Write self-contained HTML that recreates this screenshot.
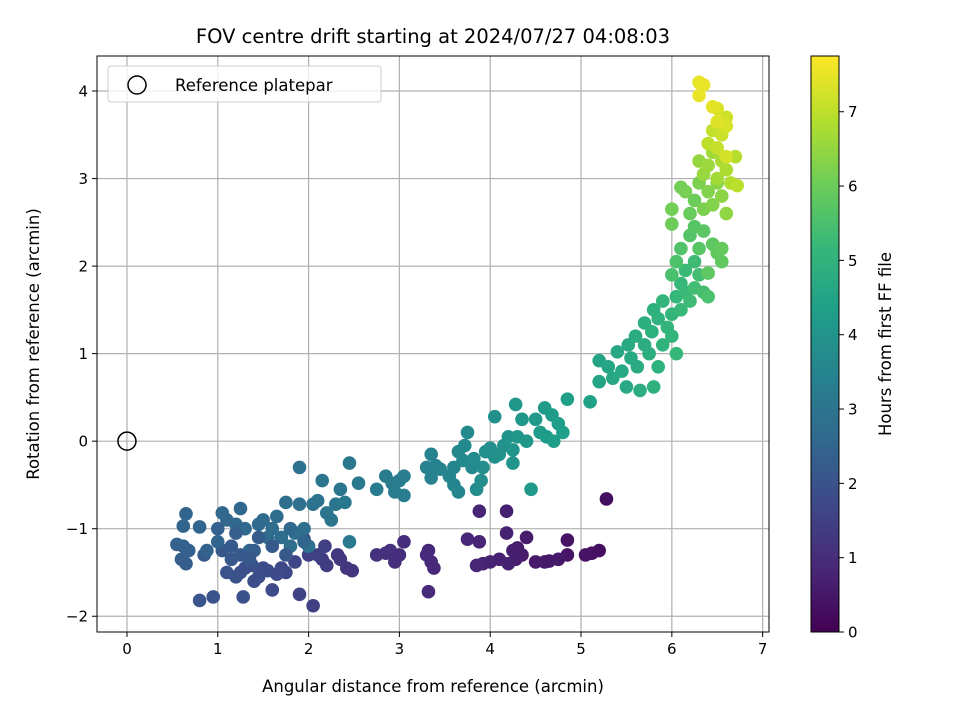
<!DOCTYPE html>
<html><head><meta charset="utf-8"><style>
body{margin:0;background:#fff}
svg text{font-family:"DejaVu Sans","Liberation Sans",sans-serif;fill:#000}
</style></head><body>
<svg id="chart" width="960" height="720" xmlns="http://www.w3.org/2000/svg">
<text x="433" y="43" font-size="19.5" text-anchor="middle">FOV centre drift starting at 2024/07/27 04:08:03</text>
<g id="grid"></g>
<g id="pts"></g>
<circle id="refm" r="9" fill="none" stroke="#000" stroke-width="1.5"/>
<rect x="97" y="56" width="672" height="576" fill="none" stroke="#000" stroke-width="1"/>
<g id="ticks"></g>
<text x="433" y="692" font-size="16.5" text-anchor="middle">Angular distance from reference (arcmin)</text>
<text transform="translate(39,344) rotate(-90)" font-size="16.5" text-anchor="middle">Rotation from reference (arcmin)</text>
<g>
<rect x="108" y="66" width="273" height="36" rx="3" fill="#fff" fill-opacity="0.8" stroke="#ccc"/>
<circle cx="137" cy="85" r="9" fill="none" stroke="#000" stroke-width="1.5"/>
<text x="175" y="91" font-size="16.5">Reference platepar</text>
</g>
<defs><linearGradient id="vir" x1="0" y1="1" x2="0" y2="0" id2="g"></linearGradient></defs>
<rect x="811" y="56" width="28" height="576" fill="url(#vir)" stroke="#000" stroke-width="1"/>
<g id="cbt"></g>
<text transform="translate(891,344) rotate(-90)" font-size="16.5" text-anchor="middle">Hours from first FF file</text>
</svg>
<script>
const xTicks=[0,1,2,3,4,5,6,7];
const yTicks=[-2,-1,0,1,2,3,4];
const cTicks=[0,1,2,3,4,5,6,7];
const xs=[5.28,5.2,5.12,5.05,4.85,4.85,4.75,4.65,4.6,4.5,4.4,4.35,4.3,4.28,4.25,4.2,4.18,4.18,4.1,4.0,3.92,3.88,3.88,3.85,3.75,3.38,3.35,3.32,3.3,3.32,3.05,3.0,2.95,2.9,2.85,2.75,2.48,2.42,2.35,2.32,
2.2,2.15,2.1,2.05,2.18,2.0,1.95,1.9,1.85,1.75,1.7,1.65,1.6,1.55,1.5,1.45,1.4,1.38,1.3,1.25,1.2,1.28,1.1,0.95,0.8,1.15,1.05,0.85,0.65,0.6,0.55,0.62,0.68,0.62,0.65,0.8,0.88,1.0,1.05,1.1,1.2,1.25,1.3,1.35,1.45,1.5,1.55,1.6,1.65,1.7,1.75,1.8,1.85,1.9,1.95,1.9,2.0,2.05,2.1,2.15,2.2,2.25,2.3,2.35,2.4,2.45,2.45,2.55,2.75,2.85,2.92,2.95,3.0,3.05,3.05,1.4,1.2,1.0,1.45,1.15,1.25,1.35,1.6,1.75,1.8,1.95,
3.3,3.35,3.4,3.35,3.45,3.55,3.6,3.6,3.65,3.65,3.7,3.72,3.75,3.8,3.82,3.85,3.9,3.92,3.95,4.0,4.05,4.05,4.1,4.15,4.2,4.25,4.25,4.28,4.3,4.35,4.4,4.45,4.5,4.55,4.6,4.62,4.68,4.7,4.75,4.8,4.85,5.1,
5.2,5.2,5.3,5.35,5.4,5.45,5.5,5.52,5.55,5.6,5.62,5.65,5.7,5.7,5.75,5.78,5.8,5.8,5.85,5.85,5.9,5.9,5.95,6.0,6.0,6.05,6.05,6.1,6.1,6.15,6.15,6.2,6.25,6.25,6.3,6.35,6.4,6.0,6.05,6.1,6.2,6.25,6.3,6.35,6.4,6.45,6.5,6.55,6.55,6.2,6.25,6.0,6.0,6.1,6.15,6.3,6.35,6.4,6.45,6.5,6.55,6.6,6.3,6.35,6.4,6.45,6.5,6.55,6.6,6.65,6.7,6.72,6.4,6.45,6.5,6.55,6.6,6.6,6.6,6.5,6.3,6.35,6.3,6.45,6.5];
const ys=[-0.66,-1.25,-1.28,-1.3,-1.13,-1.3,-1.35,-1.37,-1.38,-1.38,-1.1,-1.3,-1.22,-1.35,-1.25,-1.4,-1.05,-0.8,-1.35,-1.38,-1.4,-0.8,-1.15,-1.42,-1.12,-1.45,-1.38,-1.25,-1.3,-1.72,-1.15,-1.3,-1.38,-1.25,-1.28,-1.3,-1.48,-1.45,-1.35,-1.3,
-1.42,-1.35,-1.3,-1.88,-1.2,-1.3,-1.12,-1.75,-1.38,-1.5,-1.45,-1.52,-1.7,-1.48,-1.45,-1.55,-1.6,-1.42,-1.45,-1.5,-1.55,-1.78,-1.5,-1.78,-1.82,-1.35,-1.25,-1.3,-1.4,-1.35,-1.18,-1.2,-1.25,-0.97,-0.83,-0.98,-1.25,-1.15,-0.82,-0.9,-0.95,-0.77,-1.0,-1.25,-0.95,-0.9,-1.1,-1.0,-0.86,-1.1,-0.7,-1.2,-1.05,-0.72,-1.0,-0.3,-1.2,-0.72,-0.68,-0.45,-0.82,-0.9,-0.72,-0.55,-0.7,-0.25,-1.15,-0.48,-0.55,-0.4,-0.48,-0.58,-0.45,-0.4,-0.62,-1.25,-1.05,-1.0,-1.1,-1.2,-1.3,-1.35,-1.2,-1.3,-1.0,-1.15,
-0.3,-0.42,-0.28,-0.15,-0.32,-0.4,-0.3,-0.5,-0.58,-0.12,-0.22,-0.05,0.1,-0.3,-0.2,-0.55,-0.45,-0.3,-0.12,-0.08,-0.18,0.28,-0.15,-0.05,0.05,-0.1,-0.25,0.42,0.05,0.25,0.0,-0.55,0.25,0.1,0.38,0.05,0.3,0.0,0.2,0.1,0.48,0.45,
0.68,0.92,0.85,0.72,1.02,0.8,0.62,1.1,0.95,1.2,0.85,0.58,1.1,1.35,1.0,1.25,0.62,1.5,0.85,1.4,1.1,1.6,1.3,1.45,1.2,1.65,1.0,1.8,1.5,1.7,1.95,1.6,2.05,1.75,1.9,1.7,1.65,1.9,2.05,2.2,2.35,2.45,2.2,2.4,1.92,2.25,2.15,2.05,2.2,2.6,2.75,2.48,2.65,2.9,2.85,2.95,2.65,2.85,2.7,2.95,2.8,2.6,3.2,3.05,3.15,3.3,3.0,3.2,3.1,2.95,3.25,2.92,3.4,3.55,3.35,3.5,3.7,3.25,3.6,3.8,4.1,4.07,3.95,3.82,3.65];
const hrs=[0.3,0.3,0.35,0.4,0.4,0.45,0.5,0.5,0.5,0.55,0.6,0.6,0.6,0.65,0.65,0.7,0.7,0.7,0.7,0.75,0.75,0.8,0.8,0.8,0.85,0.9,0.9,0.9,0.95,0.95,1.0,1.0,1.05,1.05,1.1,1.1,1.2,1.2,1.25,1.25,
1.4,1.4,1.45,1.5,1.5,1.5,1.6,1.6,1.65,1.7,1.7,1.75,1.75,1.8,1.8,1.85,1.85,1.9,1.9,1.9,1.95,1.95,2.0,2.0,2.05,2.1,2.1,2.2,2.3,2.3,2.4,2.4,2.4,2.5,2.5,2.5,2.45,2.5,2.55,2.55,2.6,2.6,2.6,2.6,2.65,2.7,2.7,2.7,2.75,2.75,2.8,2.8,2.8,2.85,2.85,2.9,2.9,2.9,2.95,3.0,3.0,3.0,3.05,3.05,3.1,3.1,3.15,3.15,3.2,3.2,3.25,3.25,3.3,3.3,3.3,2.3,2.35,2.4,2.25,2.2,2.2,2.1,2.2,2.1,2.6,2.5,
3.4,3.4,3.45,3.45,3.5,3.5,3.55,3.55,3.6,3.6,3.65,3.65,3.7,3.7,3.75,3.75,3.8,3.8,3.85,3.85,3.9,3.9,3.95,3.95,4.0,4.0,4.0,4.05,4.05,4.1,4.1,4.15,4.15,4.2,4.2,4.25,4.25,4.3,4.3,4.3,4.35,4.4,
4.5,4.5,4.55,4.6,4.6,4.65,4.65,4.7,4.7,4.75,4.75,4.8,4.8,4.85,4.85,4.9,4.9,4.95,4.95,5.0,5.0,5.05,5.05,5.1,5.1,5.15,5.15,5.2,5.2,5.25,5.25,5.3,5.3,5.35,5.4,5.45,5.5,5.5,5.55,5.6,5.65,5.7,5.7,5.75,5.8,5.8,5.85,5.85,5.9,5.95,6.0,6.0,6.1,6.1,6.15,6.2,6.2,6.3,6.3,6.35,6.4,6.45,6.5,6.55,6.6,6.65,6.7,6.75,6.8,6.85,6.9,6.95,7.0,7.05,7.1,7.15,7.2,7.25,7.3,7.35,7.5,7.5,7.5,7.45,7.4];
const X0=97,X1=769,Y0=632,Y1=56,xmin=-0.33,xmax=7.07,ymin=-2.18,ymax=4.4,cmax=7.75;
const sx=v=>X0+(v-xmin)/(xmax-xmin)*(X1-X0);
const sy=v=>Y0-(v-ymin)/(ymax-ymin)*(Y0-Y1);
const sc=v=>632-v/cmax*576;
const stops=[[68,1,84],[72,40,120],[62,73,137],[49,104,142],[38,130,142],[31,158,137],[53,183,121],[109,205,89],[180,222,44],[253,231,37]];
function vir(t){t=Math.max(0,Math.min(1,t));const p=t*(stops.length-1),i=Math.min(stops.length-2,Math.floor(p)),f=p-i;const c=stops[i].map((a,k)=>Math.round(a+(stops[i+1][k]-a)*f));return `rgb(${c})`;}
const NS="http://www.w3.org/2000/svg";
function mk(tag,attrs,parent){const e=document.createElementNS(NS,tag);for(const k in attrs)e.setAttribute(k,attrs[k]);parent.appendChild(e);return e;}
const grid=document.getElementById('grid'),ticks=document.getElementById('ticks');
xTicks.forEach(v=>{const x=sx(v);
const l=mk('line',{x1:x,x2:x,y1:Y1,y2:Y0,stroke:'#b0b0b0','stroke-width':1.2},grid);


mk('line',{x1:x,x2:x,y1:Y0,y2:Y0+5,stroke:'#000'},ticks);
const t=mk('text',{x:x,y:Y0+22,'font-size':15,'text-anchor':'middle'},ticks);t.textContent=v;

});
yTicks.forEach(v=>{const y=sy(v);
const l=mk('line',{x1:X0,x2:X1,y1:y,y2:y,stroke:'#b0b0b0','stroke-width':1.2},grid);


mk('line',{x1:X0-5,x2:X0,y1:y,y2:y,stroke:'#000'},ticks);
const t=mk('text',{x:X0-9,y:y+5.5,'font-size':15,'text-anchor':'end'},ticks);t.textContent=v<0?'\u2212'+(-v):v;

});
const pts=document.getElementById('pts');
xs.forEach((v,i)=>{const c=mk('circle',{cx:sx(v),cy:sy(ys[i]),r:6.8,fill:vir(hrs[i]/cmax)},pts);

});
const r=document.getElementById('refm');r.setAttribute('cx',sx(0));r.setAttribute('cy',sy(0));
const g=document.getElementById('vir');
stops.forEach((s,i)=>mk('stop',{offset:i/(stops.length-1),'stop-color':`rgb(${s})`},g));
const cb=document.getElementById('cbt');
cTicks.forEach(v=>{const y=sc(v);mk('line',{x1:839,x2:844,y1:y,y2:y,stroke:'#000'},cb);
const t=mk('text',{x:848,y:y+5.5,'font-size':15},cb);t.textContent=v;

});
</script>
</body></html>
